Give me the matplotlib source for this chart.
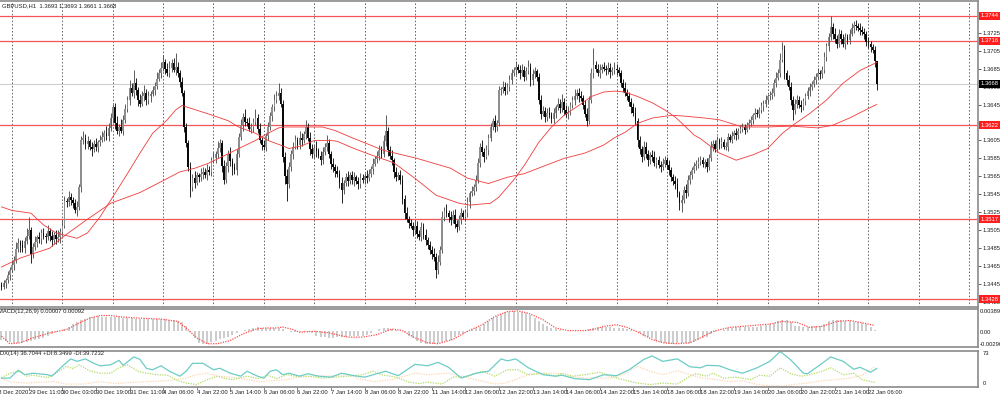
import numpy as np
import matplotlib.pyplot as plt

# === PRICE DATA (H1 bars, pips above BASE) ===
BASE = 1.3400
first_open = 44

closes = [
    42, 46, 50, 55, 61, 66, 72, 84, 91, 88, 85, 93, 99, 105, 79, 86, 92, 97, 95, 102,
    99, 97, 104, 98, 94, 100, 95, 97, 103, 110, 138, 136, 142, 139, 135, 128, 131, 153, 205, 208,
    201, 204, 198, 195, 201, 198, 203, 206, 209, 213, 210, 219, 230, 242, 225, 216, 220, 216, 228, 240,
    250, 264, 258, 269, 261, 250, 246, 255, 258, 250, 254, 257, 261, 266, 274, 280, 286, 292, 285, 280,
    286, 291, 284, 287, 280, 270, 258, 220, 202, 175, 153, 163, 158, 166, 164, 168, 170, 166, 172, 170,
    183, 186, 190, 197, 202, 177, 161, 176, 190, 182, 175, 172, 190, 209, 222, 231, 226, 225, 218, 220,
    226, 230, 218, 205, 200, 198, 210, 220, 232, 242, 250, 255, 258, 246, 187, 165, 157, 175, 190, 198,
    205, 200, 208, 205, 212, 220, 208, 196, 190, 197, 193, 188, 183, 192, 198, 202, 190, 179, 175, 171,
    168, 158, 150, 158, 164, 160, 166, 161, 164, 160, 157, 163, 161, 165, 163, 168, 173, 179, 184, 188,
    194, 190, 204, 216, 194, 188, 183, 170, 164, 166, 161, 140, 124, 118, 113, 110, 105, 110, 101, 97,
    109, 100, 94, 88, 83, 79, 75, 61, 70, 83, 120, 126, 124, 120, 116, 122, 112, 109, 117, 124,
    120, 124, 136, 146, 149, 153, 161, 180, 198, 192, 187, 194, 208, 220, 227, 220, 224, 261, 262, 265,
    260, 265, 272, 280, 283, 287, 284, 280, 284, 276, 282, 287, 272, 279, 282, 276, 250, 235, 238, 231,
    236, 233, 229, 236, 242, 246, 241, 248, 239, 234, 237, 244, 250, 255, 258, 254, 252, 245, 235, 227,
    250, 280, 289, 285, 280, 284, 287, 285, 283, 286, 281, 283, 285, 283, 280, 269, 264, 258, 254, 248,
    242, 236, 227, 205, 195, 187, 198, 190, 183, 189, 187, 180, 183, 178, 175, 179, 183, 178, 172, 164,
    160, 157, 146, 135, 139, 150, 146, 161, 167, 172, 176, 179, 181, 183, 179, 181, 175, 186, 198, 201,
    196, 205, 201, 203, 198, 198, 209, 206, 210, 213, 211, 216, 218, 220, 217, 222, 224, 228, 233, 236,
    234, 239, 243, 246, 250, 254, 256, 258, 269, 275, 280, 295, 306, 280, 272, 265, 250, 239, 246, 250,
    245, 242, 249, 254, 260, 265, 268, 272, 276, 280, 279, 283, 298, 310, 320, 331, 324, 318, 313, 324,
    318, 313, 320, 317, 324, 330, 334, 332, 330, 328, 326, 324, 315, 312, 309, 306, 293, 268,
]

up_wick = [
    3, 4, 2, 5, 3, 6, 4, 8, 5, 3, 6, 4, 9, 15, 4, 5, 7, 3, 6, 4,
    5, 3, 7, 4, 6, 3, 5, 8, 4, 6, 5, 3, 7, 4, 3, 5, 6, 4, 5, 7,
    4, 6, 3, 5, 4, 7, 3, 5, 6, 4, 8, 5, 6, 4, 5, 7, 3, 9, 5, 6,
    4, 8, 5, 14, 6, 4, 7, 5, 9, 4, 6, 3, 5, 4, 7, 5, 6, 8, 4, 6,
    7, 5, 6, 15, 5, 4, 6, 3, 5, 4, 6, 5, 8, 4, 3, 6, 5, 4, 7, 5,
    4, 6, 3, 7, 5, 4, 6, 5, 4, 8, 3, 5, 6, 4, 7, 5, 9, 4, 6, 5,
    4, 10, 5, 6, 4, 5, 3, 6, 5, 4, 7, 5, 11, 6, 4, 5, 8, 6, 4, 5,
    6, 4, 7, 5, 3, 8, 4, 6, 5, 3, 7, 4, 5, 6, 4, 9, 5, 3, 6, 4,
    5, 4, 6, 3, 5, 7, 4, 5, 6, 3, 4, 6, 5, 4, 7, 5, 3, 6, 4, 5,
    6, 5, 7, 17, 4, 5, 6, 3, 5, 4, 6, 5, 4, 7, 3, 5, 4, 6, 5, 4,
    5, 4, 6, 3, 5, 4, 6, 5, 7, 4, 6, 5, 8, 4, 6, 5, 7, 4, 5, 6,
    4, 5, 6, 3, 5, 4, 6, 5, 4, 7, 5, 6, 4, 5, 3, 6, 4, 5, 3, 6,
    5, 4, 6, 5, 4, 7, 3, 5, 6, 4, 5, 8, 4, 6, 5, 3, 4, 6, 5, 4,
    5, 6, 4, 5, 3, 6, 5, 9, 4, 5, 6, 4, 5, 7, 4, 5, 6, 4, 5, 6,
    5, 6, 19, 4, 5, 6, 3, 5, 4, 6, 5, 4, 7, 5, 4, 3, 5, 6, 4, 5,
    4, 5, 6, 3, 5, 4, 6, 5, 4, 3, 5, 6, 4, 5, 4, 6, 5, 4, 5, 3,
    4, 5, 6, 3, 5, 4, 6, 5, 4, 3, 5, 4, 6, 5, 4, 3, 5, 4, 6, 5,
    4, 5, 3, 6, 4, 5, 4, 3, 5, 4, 6, 3, 4, 5, 3, 4, 5, 4, 3, 5,
    4, 3, 5, 4, 6, 3, 4, 5, 4, 6, 5, 7, 9, 5, 4, 6, 5, 4, 5, 6,
    4, 5, 3, 4, 5, 4, 3, 5, 4, 6, 4, 5, 6, 4, 5, 13, 5, 6, 4, 5,
    4, 6, 5, 4, 5, 6, 4, 5, 4, 6, 5, 4, 3, 5, 4, 3, 4, 0,
]

dn_wick = [
    4, 3, 5, 4, 6, 3, 5, 4, 3, 7, 4, 5, 3, 4, 10, 5, 3, 6, 4, 5,
    4, 6, 3, 5, 7, 4, 5, 3, 6, 4, 3, 5, 4, 6, 5, 4, 7, 3, 5, 4,
    6, 5, 4, 7, 3, 5, 6, 4, 3, 5, 4, 6, 3, 5, 7, 4, 6, 3, 5, 4,
    3, 5, 4, 6, 5, 7, 4, 3, 6, 5, 4, 6, 3, 5, 4, 3, 5, 4, 6, 3,
    4, 5, 3, 6, 4, 5, 3, 6, 4, 4, 11, 4, 6, 3, 5, 4, 6, 3, 5, 4,
    5, 3, 6, 4, 5, 7, 4, 3, 6, 5, 8, 4, 5, 3, 4, 6, 5, 4, 3, 5,
    6, 4, 5, 3, 6, 4, 5, 4, 3, 5, 4, 3, 5, 4, 6, 8, 19, 5, 4, 6,
    3, 5, 4, 6, 3, 5, 4, 7, 5, 4, 6, 3, 5, 4, 3, 5, 4, 6, 5, 7,
    4, 6, 15, 5, 4, 6, 3, 5, 7, 4, 6, 5, 3, 4, 5, 3, 4, 5, 3, 4,
    5, 4, 3, 5, 6, 4, 5, 7, 4, 3, 5, 6, 7, 4, 5, 3, 6, 4, 5, 3,
    4, 5, 6, 4, 5, 6, 4, 9, 5, 4, 3, 5, 4, 6, 5, 3, 5, 6, 4, 5,
    3, 5, 4, 6, 3, 5, 4, 3, 5, 4, 6, 3, 5, 4, 3, 6, 4, 3, 5, 4,
    4, 3, 5, 4, 3, 5, 4, 6, 3, 5, 4, 3, 6, 5, 4, 5, 4, 6, 3, 5,
    4, 3, 5, 4, 6, 3, 5, 4, 6, 3, 5, 4, 3, 5, 4, 6, 3, 5, 4, 6,
    4, 3, 5, 4, 3, 5, 4, 3, 5, 4, 6, 3, 4, 5, 3, 4, 5, 3, 4, 5,
    6, 4, 5, 7, 5, 6, 4, 5, 6, 4, 5, 3, 6, 4, 5, 3, 4, 5, 6, 4,
    5, 6, 4, 7, 10, 4, 5, 3, 4, 5, 3, 4, 5, 3, 4, 5, 5, 3, 4, 5,
    4, 3, 5, 4, 3, 4, 5, 3, 4, 3, 5, 4, 3, 4, 5, 3, 4, 3, 5, 4,
    3, 4, 3, 5, 4, 3, 4, 5, 3, 4, 3, 4, 3, 6, 5, 4, 5, 11, 4, 5,
    4, 5, 3, 4, 3, 5, 4, 3, 4, 3, 5, 4, 3, 4, 5, 3, 6, 4, 5, 4,
    5, 4, 6, 5, 4, 3, 5, 4, 3, 5, 4, 6, 5, 4, 5, 4, 6, 7,
]

# moving averages (bar index, pips above BASE)
ma_fast_bars = [0, 5, 14, 20, 26, 36, 41, 47, 53, 60, 66, 72, 79, 83, 86, 98, 108, 113, 121, 127,
                135, 137, 143, 149, 157, 160, 168, 176, 187, 198, 207, 218, 223, 233, 237, 244, 249,
                256, 262, 268, 275, 281, 287, 292, 297, 303, 310, 316, 321, 326, 330, 333, 342, 350,
                358, 365, 372, 377, 385, 393, 401, 409, 417]
ma_fast = [131, 127, 124, 111, 102, 96, 102, 120, 142, 168, 191, 213, 228, 239, 244, 235, 227, 220,
           213, 205, 198, 196, 199, 205, 205, 204, 196, 189, 180, 161, 144, 135, 133, 135, 142, 161,
           177, 203, 220, 233, 244, 254, 259, 260, 259, 254, 247, 239, 231, 220, 211, 207, 191, 183,
           189, 196, 213, 222, 235, 250, 269, 283, 292]
ma_slow_bars = [0, 9, 23, 29, 39, 52, 66, 76, 85, 92, 98, 107, 113, 121, 127, 132, 135, 146, 153, 159,
                166, 182, 198, 214, 222, 232, 241, 249, 259, 268, 278, 287, 292, 297, 303, 310, 316,
                320, 326, 335, 342, 353, 365, 376, 389, 396, 404, 415, 417]
ma_slow = [64, 74, 85, 97, 114, 135, 147, 159, 170, 174, 179, 189, 196, 205, 213, 219, 220, 220, 220,
           216, 209, 194, 185, 174, 163, 157, 164, 168, 177, 185, 191, 200, 208, 214, 224, 230, 232,
           233, 232, 230, 228, 220, 220, 221, 219, 222, 230, 243, 245]

levels = [1.3744, 1.3716, 1.3622, 1.3517, 1.3428]
last_price = 1.3668
price_ticks = [1.3425, 1.3445, 1.3465, 1.3485, 1.3505, 1.3525, 1.3545, 1.3565, 1.3585,
               1.3605, 1.3625, 1.3645, 1.3665, 1.3685, 1.3705, 1.3725]

# === MACD(12,26,9), units of 1e-5 ===
macd_hist = [  # one value every 2nd bar
    -160, -190, -210, -220, -225, -215, -200, -185, -165, -145, -130, -100, -60, -30, 0, 30, 70, 110, 150, 190,
    215, 235, 250, 255, 250, 245, 240, 240, 235, 232, 228, 220, 215, 210, 212, 208, 205, 210, 205, 200,
    195, 190, 180, 150, 90, -20, -140, -220, -245, -230, -200, -180, -150, -130, -110, -80, -50, -10, 15, 35,
    55, 60, 55, 50, 50, 45, 40, 25, 0, -20, -20, -20, -25, -30, -50, -90, -110, -120, -125, -125,
    -120, -115, -110, -105, -100, -95, -90, -80, -50, -10, 30, 50, 45, 30, 10, 0, -30, -90, -140, -190,
    -225, -235, -235, -230, -220, -200, -185, -160, -120, -80, -60, -30, 20, 50, 70, 110, 170, 220, 260, 300,
    330, 340, 345, 340, 335, 320, 270, 230, 180, 120, 80, 40, 20, 10, 0, -10, -10, -10, -5, 0,
    20, 50, 58, 62, 62, 58, 55, 47, 40, 30, 15, 0, -40, -90, -120, -140, -180, -210, -225, -230,
    -230, -228, -225, -220, -215, -200, -160, -130, -110, -60, -30, -10, 10, 40, 55, 58, 60, 58, 60, 62,
    65, 75, 100, 110, 130, 170, 195, 190, 150, 90, 75, 70, 72, 75, 78, 80, 120, 175, 195, 195,
    190, 175, 165, 160, 150, 135, 110, 60, 7,
]
signal_bars = [0, 4, 9, 15, 23, 31, 37, 42, 47, 52, 58, 66, 76, 84, 88, 93, 98, 103, 109, 115, 122,
               126, 131, 134, 139, 142, 149, 156, 165, 172, 179, 186, 191, 197, 203, 208, 215, 222,
               229, 235, 241, 246, 251, 258, 264, 270, 278, 283, 287, 293, 298, 304, 310, 315, 322,
               328, 333, 339, 347, 357, 366, 372, 379, 385, 391, 398, 404, 410, 416]
signal = [-99, -234, -216, -129, -41, 18, 135, 222, 269, 269, 240, 222, 205, 164, 47, -129, -234,
          -234, -176, -59, 35, 47, 47, 64, 18, -29, -12, -41, -117, -117, -70, 29, 0, -129, -216,
          -234, -158, -12, 105, 252, 339, 351, 310, 193, 47, 0, 0, 30, 76, 105, 58, -41, -158, -216,
          -234, -216, -129, -12, 58, 88, 117, 164, 146, 58, 76, 164, 181, 140, 92]

# === ADX(14) ===
adx_bars = [0, 4, 8, 11, 15, 22, 24, 29, 33, 36, 40, 44, 47, 52, 56, 58, 63, 66, 69, 72, 76, 80, 85,
            88, 91, 96, 101, 104, 109, 114, 117, 122, 125, 128, 131, 134, 137, 142, 146, 151, 157,
            162, 168, 173, 183, 189, 197, 203, 208, 213, 219, 226, 232, 238, 241, 245, 251, 258,
            264, 267, 273, 280, 287, 293, 299, 306, 310, 315, 322, 328, 333, 336, 342, 347, 353,
            360, 366, 371, 376, 382, 384, 390, 395, 401, 406, 409, 414, 417]
adx = [17, 17, 33, 24, 27, 24, 21, 41, 56, 51, 56, 47, 42, 44, 53, 43, 60, 55, 37, 34, 42, 31, 21,
       31, 47, 47, 34, 37, 27, 21, 31, 21, 17, 31, 34, 24, 27, 21, 26, 21, 19, 27, 22, 19, 31, 22,
       45, 42, 49, 39, 17, 27, 31, 56, 52, 56, 38, 24, 21, 23, 16, 14, 24, 22, 34, 55, 62, 51, 56,
       40, 38, 43, 42, 34, 27, 38, 51, 71, 54, 27, 26, 44, 60, 51, 35, 39, 29, 36.7]
pdi_bars = [0, 4, 9, 12, 15, 22, 26, 31, 34, 37, 42, 47, 52, 56, 60, 65, 69, 74, 79, 84, 88, 93, 98,
            103, 106, 110, 117, 122, 127, 131, 136, 140, 146, 153, 159, 165, 172, 177, 181, 188,
            194, 199, 203, 210, 215, 222, 229, 235, 241, 246, 251, 258, 264, 267, 272, 278, 285,
            290, 296, 303, 309, 315, 322, 328, 331, 336, 339, 344, 350, 357, 361, 366, 371, 376,
            381, 385, 391, 395, 401, 406, 410, 416]
pdi = [18, 27, 31, 21, 23, 18, 27, 41, 36, 44, 32, 27, 27, 38, 44, 31, 27, 24, 23, 12, 7, 4, 14, 21,
       17, 14, 21, 16, 23, 16, 24, 21, 21, 17, 19, 21, 24, 31, 24, 19, 9, 6, 9, 5, 19, 21, 31, 21,
       34, 34, 24, 27, 21, 27, 21, 24, 29, 21, 14, 7, 4, 7, 5, 21, 26, 21, 27, 17, 19, 14, 23, 21,
       38, 26, 21, 24, 31, 38, 24, 27, 14, 8.35]
mdi_bars = [0, 5, 12, 18, 25, 31, 39, 47, 55, 63, 71, 79, 87, 93, 98, 103, 110, 117, 123, 129, 136,
            140, 151, 156, 165, 172, 178, 186, 192, 197, 203, 213, 219, 226, 235, 240, 245, 251,
            258, 264, 270, 278, 290, 296, 303, 309, 315, 322, 328, 334, 341, 347, 353, 360, 366,
            372, 377, 384, 391, 398, 404, 410, 416]
mdi = [16, 9, 7, 9, 10, 5, 5, 10, 6, 9, 10, 12, 16, 24, 27, 21, 19, 14, 10, 12, 14, 18, 22, 21, 24,
       14, 10, 14, 21, 27, 24, 27, 21, 14, 5, 7, 14, 24, 27, 27, 21, 17, 17, 24, 41, 31, 24, 32, 24,
       17, 14, 10, 12, 4, 2, 1, 4, 7, 12, 14, 17, 23, 39.7]

time_labels = [
    "28 Dec 2020", "29 Dec 11:00", "30 Dec 03:00", "30 Dec 19:00", "31 Dec 11:00", "4 Jan 06:00",
    "4 Jan 22:00", "5 Jan 14:00", "6 Jan 06:00", "6 Jan 22:00", "7 Jan 14:00", "8 Jan 06:00",
    "8 Jan 22:00", "11 Jan 14:00", "12 Jan 06:00", "12 Jan 22:00", "13 Jan 14:00", "14 Jan 06:00",
    "14 Jan 22:00", "15 Jan 14:00", "18 Jan 06:00", "18 Jan 22:00", "19 Jan 14:00", "20 Jan 06:00",
    "20 Jan 22:00", "21 Jan 14:00", "22 Jan 06:00",
]

# === STYLE ===
plt.rcParams["font.family"] = ["Liberation Sans Narrow", "Liberation Sans", "DejaVu Sans"]
FS = 4.2
TXT = "#1e1e1e"
FRAME = "#8a8a8a"
LEVEL_RED = "#f25555"
XMIN, XMAX = -0.7, 465.2


def style_panel(ax):
    ax.set_xlim(XMIN, XMAX)
    ax.set_xticks([])
    ax.set_yticks([])
    ax.spines["left"].set_visible(False)
    for s in ("top", "bottom", "right"):
        ax.spines[s].set_color(FRAME)
        ax.spines[s].set_linewidth(1.2)


fig = plt.figure(figsize=(10, 3.99), dpi=100)
ax = fig.add_axes([0, 1 - 307.3 / 399, 0.978, 306.3 / 399])
ax_m = fig.add_axes([0, 1 - 347.2 / 399, 0.978, 38.4 / 399])
ax_a = fig.add_axes([0, 1 - 386.8 / 399, 0.978, 36.3 / 399])
for a in (ax, ax_m, ax_a):
    style_panel(a)

# --- candles ---
c = BASE + np.array(closes) / 1e4
o = np.r_[BASE + first_open / 1e4, c[:-1]]
hi = np.maximum(o, c) + np.array(up_wick) / 1e4
lo = np.minimum(o, c) - np.array(dn_wick) / 1e4
idx = np.arange(len(c))
bull = c >= o
body = np.maximum(np.abs(c - o), 0.00005)
bottom = np.minimum(o, c)
ax.vlines(idx[bull], lo[bull], hi[bull], color="#505050", lw=0.65, zorder=3)
ax.vlines(idx[~bull], lo[~bull], hi[~bull], color="#141414", lw=0.65, zorder=3)
ax.bar(idx[bull], body[bull], bottom=bottom[bull], width=0.8, color="#8e8e8e",
       edgecolor="none", zorder=4)
ax.bar(idx[~bull], body[~bull], bottom=bottom[~bull], width=0.8, color="#080808",
       edgecolor="none", zorder=4)

ax.plot(ma_fast_bars, BASE + np.array(ma_fast) / 1e4, color="#f03a3a", lw=0.6, zorder=5)
ax.plot(ma_slow_bars, BASE + np.array(ma_slow) / 1e4, color="#f03a3a", lw=0.6, zorder=5)

for lv in levels:
    ax.axhline(lv, color=LEVEL_RED, lw=0.9, zorder=2)
ax.axhline(last_price, color="#cfcfcf", lw=0.8, zorder=1)

# daily vertical grid, every 24 bars
for b in range(5, 466, 24):
    ax.axvline(b, color="#3a3a3a", lw=0.55, ls=(0, (2, 2.5)), zorder=1)

ax.set_ylim(1.34191, 1.37604)
ax.yaxis.tick_right()
ax.set_yticks(price_ticks)
ax.set_yticklabels([f"{t:.4f}" for t in price_ticks])
ax.tick_params(axis="y", length=2, width=0.5, pad=1.2, labelsize=FS, colors=TXT)

for lv in levels:
    ax.text(1.003, lv, f"{lv:.4f}", transform=ax.get_yaxis_transform(), ha="left", va="center",
            fontsize=FS, color="white", clip_on=False, zorder=10,
            bbox=dict(boxstyle="square,pad=0.25", fc="#ff1e1e", ec="none"))
ax.text(1.003, last_price, f"{last_price:.4f}", transform=ax.get_yaxis_transform(), ha="left",
        va="center", fontsize=FS, color="white", clip_on=False, zorder=10,
        bbox=dict(boxstyle="square,pad=0.25", fc="black", ec="none"))

fig.text(0.002, 1 - 5.5 / 399, "GBPUSD,H1  1.3693 1.3693 1.3661 1.3668", fontsize=FS,
         color=TXT, va="center", ha="left")

# --- MACD ---
hist_bars = np.arange(0, 2 * len(macd_hist), 2)
ax_m.vlines(hist_bars, 0, np.array(macd_hist) * 1e-5, color="#c6c6c6", lw=1.25)
ax_m.plot(signal_bars, np.array(signal) * 1e-5, color="#ff4d4d", lw=0.9, ls=(0, (1, 1)))
ax_m.set_ylim(-0.00296, 0.00389)
for yy, lab in ((0.93, "0.00389"), (0.39, "0.00"), (0.08, "-0.00296")):
    ax_m.text(1.002, yy, lab, transform=ax_m.transAxes, fontsize=FS, color=TXT,
              va="center", ha="left", clip_on=False)
fig.text(-0.0025, 1 - 311 / 399, "MACD(12,26,9) 0.00007 0.00092", fontsize=FS,
         color=TXT, va="center", ha="left")

# --- ADX ---
ax_a.plot(mdi_bars, mdi, color="#fcd7b4", lw=0.9, ls=(0, (1, 1)))
ax_a.plot(pdi_bars, pdi, color="#b4dc6a", lw=0.9, ls=(0, (1, 1)))
ax_a.plot(adx_bars, adx, color="#6ccdc6", lw=0.9)
ax_a.set_ylim(-0.5, 73)
for yy, lab in ((0.93, "73"), (0.08, "0")):
    ax_a.text(1.005, yy, lab, transform=ax_a.transAxes, fontsize=FS, color=TXT,
              va="center", ha="left", clip_on=False)
fig.text(-0.0035, 1 - 353.5 / 399, "ADX(14) 36.7044 +DI:8.3499 -DI:39.7232", fontsize=FS,
         color=TXT, va="center", ha="left")

label_bars = [13 + 16 * (i - 1) for i in range(len(time_labels))]
ax_a.set_xticks(label_bars[1:])
ax_a.tick_params(axis="x", length=2.5, width=0.5, color="#555555", labelbottom=False)
for b, lab in zip(label_bars, time_labels):
    ax_a.text(b, -0.17, lab, transform=ax_a.get_xaxis_transform(), fontsize=FS,
              color=TXT, ha="left", va="center", clip_on=False)

fig.savefig("out.png", dpi=100, facecolor="white")
